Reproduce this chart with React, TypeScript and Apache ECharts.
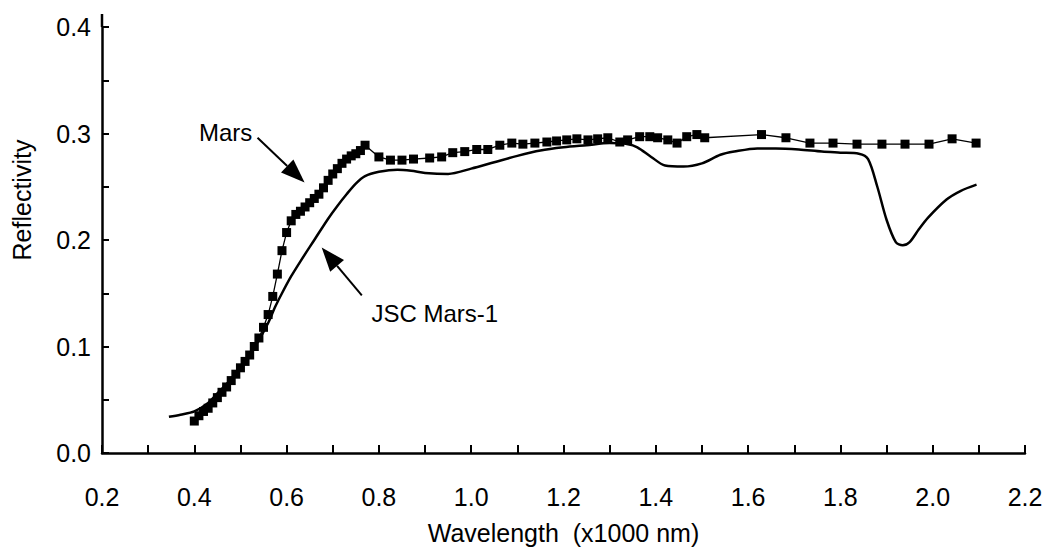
import React, { useEffect, useRef } from "react";
import * as echarts from "echarts";

const FONT = "'Liberation Sans', Arial, Helvetica, sans-serif";

// JSC Mars-1 spectrum (wavelength x1000 nm, reflectivity)
const jscW = [0.345, 0.37, 0.40, 0.43, 0.45, 0.475, 0.50, 0.52, 0.54, 0.56, 0.575, 0.59, 0.61, 0.63, 0.66, 0.69, 0.71, 0.73, 0.75, 0.77, 0.80, 0.84, 0.87, 0.90, 0.95, 1.00, 1.05, 1.10, 1.15, 1.20, 1.25, 1.30, 1.34, 1.36, 1.39, 1.42, 1.46, 1.50, 1.54, 1.57, 1.62, 1.66, 1.71, 1.76, 1.80, 1.84, 1.86, 1.88, 1.90, 1.92, 1.935, 1.95, 1.97, 1.99, 2.03, 2.06, 2.095];
const jscR = [0.034, 0.036, 0.039, 0.047, 0.056, 0.067, 0.081, 0.093, 0.106, 0.122, 0.137, 0.150, 0.166, 0.180, 0.200, 0.220, 0.232, 0.243, 0.253, 0.260, 0.264, 0.266, 0.265, 0.263, 0.262, 0.267, 0.273, 0.279, 0.284, 0.287, 0.289, 0.291, 0.290, 0.287, 0.278, 0.270, 0.269, 0.272, 0.280, 0.283, 0.286, 0.286, 0.285, 0.283, 0.282, 0.281, 0.276, 0.250, 0.219, 0.198, 0.195, 0.198, 0.210, 0.221, 0.238, 0.246, 0.252];

// Mars spectrum (square markers)
const marsW = [0.40, 0.41, 0.42, 0.43, 0.44, 0.45, 0.46, 0.47, 0.48, 0.49, 0.50, 0.51, 0.52, 0.53, 0.54, 0.55, 0.56, 0.57, 0.58, 0.59, 0.60, 0.61, 0.62, 0.63, 0.64, 0.65, 0.66, 0.67, 0.68, 0.69, 0.70, 0.71, 0.72, 0.73, 0.74, 0.75, 0.76, 0.77, 0.80, 0.825, 0.85, 0.875, 0.91, 0.936, 0.96, 0.986, 1.012, 1.036, 1.062, 1.088, 1.112, 1.138, 1.164, 1.185, 1.207, 1.229, 1.253, 1.274, 1.296, 1.322, 1.339, 1.365, 1.387, 1.404, 1.426, 1.446, 1.467, 1.489, 1.506, 1.629, 1.682, 1.734, 1.784, 1.836, 1.89, 1.94, 1.992, 2.042, 2.094];
const marsR = [0.030, 0.035, 0.039, 0.042, 0.047, 0.052, 0.057, 0.062, 0.068, 0.074, 0.080, 0.086, 0.092, 0.100, 0.108, 0.118, 0.130, 0.147, 0.168, 0.190, 0.207, 0.218, 0.224, 0.227, 0.231, 0.235, 0.239, 0.243, 0.249, 0.256, 0.262, 0.267, 0.272, 0.276, 0.279, 0.281, 0.284, 0.289, 0.278, 0.275, 0.275, 0.276, 0.277, 0.278, 0.282, 0.283, 0.285, 0.285, 0.289, 0.291, 0.290, 0.291, 0.292, 0.293, 0.294, 0.295, 0.294, 0.295, 0.296, 0.292, 0.294, 0.297, 0.297, 0.296, 0.294, 0.291, 0.297, 0.299, 0.296, 0.299, 0.296, 0.291, 0.291, 0.290, 0.290, 0.290, 0.290, 0.295, 0.291];

// Annotations: label text, label anchor, arrow tail, arrow tip (data coords)
const marsLabel = { text: "Mars", at: [0.468, 0.301], tail: [0.537, 0.296], tip: [0.639, 0.254] };
const jscLabel = { text: "JSC Mars-1", at: [0.784, 0.131], tail: [0.763, 0.148], tip: [0.676, 0.193] };

export default function App() {
  const ref = useRef<HTMLDivElement>(null);

  useEffect(() => {
    if (!ref.current) return;
    const chart = echarts.init(ref.current, undefined, { renderer: "svg" });
    const fmt = (v: number) => {
      const k = Math.round(v * 10);
      if (Math.abs(v * 10 - k) > 1e-6) return "";
      return (k / 10).toFixed(1);
    };
    const fmtX = (v: number) => {
      const k = Math.round(v * 10);
      return k % 2 === 0 ? (k / 10).toFixed(1) : "";
    };
    chart.setOption({
      animation: false,
      backgroundColor: "#ffffff",
      grid: { left: 102, right: 27, top: 27, bottom: 97, containLabel: false, outerBoundsMode: "none" },
      xAxis: {
        type: "value",
        min: 0.2,
        max: 2.2,
        interval: 0.1,
        name: "Wavelength  (x1000 nm)",
        nameLocation: "middle",
        nameGap: 67,
        nameTextStyle: { fontFamily: FONT, fontSize: 25, color: "#000" },
        axisLine: { show: true, onZero: false, lineStyle: { color: "#000", width: 2.5 } },
        axisTick: { show: true, inside: true, length: 8, lineStyle: { color: "#000", width: 2 } },
        axisLabel: { formatter: fmtX, fontFamily: FONT, fontSize: 25, color: "#000", margin: 31 },
        splitLine: { show: false },
      },
      yAxis: {
        type: "value",
        min: 0,
        max: 0.4,
        interval: 0.05,
        axisLine: { show: true, lineStyle: { color: "#000", width: 2.5 } },
        axisTick: { show: true, inside: true, length: 7, lineStyle: { color: "#000", width: 2 } },
        axisLabel: { formatter: fmt, fontFamily: FONT, fontSize: 25, color: "#000", margin: 11 },
        splitLine: { show: false },
      },
      series: [
        {
          name: "JSC Mars-1",
          type: "line",
          data: jscW.map((w, i) => [w, jscR[i]]),
          showSymbol: false,
          smooth: 0.3,
          lineStyle: { color: "#000", width: 2.5 },
          z: 2,
        },
        {
          name: "Mars",
          type: "line",
          data: marsW.map((w, i) => [w, marsR[i]]),
          symbol: "rect",
          symbolSize: 9,
          showAllSymbol: true,
          itemStyle: { color: "#000" },
          lineStyle: { color: "#000", width: 1.3 },
          z: 3,
        },
      ],
    });

    const px = (p: number[]) => chart.convertToPixel({ gridIndex: 0 }, p) as number[];
    const arrow = (tailD: number[], tipD: number[]) => {
      const a = px(tailD);
      const b = px(tipD);
      const dx = b[0] - a[0];
      const dy = b[1] - a[1];
      const len = Math.sqrt(dx * dx + dy * dy);
      const ux = dx / len;
      const uy = dy / len;
      const headL = 24;
      const headW = 9;
      const bx = b[0] - ux * headL;
      const by = b[1] - uy * headL;
      return [
        {
          type: "line",
          shape: { x1: a[0], y1: a[1], x2: bx, y2: by },
          style: { stroke: "#000", lineWidth: 2 },
        },
        {
          type: "polygon",
          shape: {
            points: [
              [b[0], b[1]],
              [bx - uy * headW, by + ux * headW],
              [bx + uy * headW, by - ux * headW],
            ],
          },
          style: { fill: "#000" },
        },
      ];
    };
    const mL = px(marsLabel.at);
    const jL = px(jscLabel.at);
    const top = px([0.2, 0.4]);
    chart.setOption({
      graphic: [
        {
          type: "line",
          shape: { x1: top[0], y1: top[1], x2: top[0], y2: top[1] - 13 },
          style: { stroke: "#000", lineWidth: 2.5 },
        },
        ...arrow(marsLabel.tail, marsLabel.tip),
        ...arrow(jscLabel.tail, jscLabel.tip),
        {
          type: "text",
          x: mL[0],
          y: mL[1],
          style: { text: marsLabel.text, font: `24px ${FONT}`, fill: "#000", align: "center", verticalAlign: "middle", textAlign: "center", textVerticalAlign: "middle" },
        },
        {
          type: "text",
          x: jL[0],
          y: jL[1],
          style: { text: jscLabel.text, font: `24px ${FONT}`, fill: "#000", align: "left", verticalAlign: "middle", textAlign: "left", textVerticalAlign: "middle" },
        },
        {
          type: "text",
          x: 22,
          y: 200,
          rotation: Math.PI / 2,
          style: { text: "Reflectivity", font: `25px ${FONT}`, fill: "#000", align: "center", verticalAlign: "middle", textAlign: "center", textVerticalAlign: "middle" },
        },
      ],
    });

    return () => chart.dispose();
  }, []);

  return (
    <div
      ref={ref}
      style={{ position: "absolute", left: 0, top: 0, width: 1052, height: 550, background: "#fff" }}
    />
  );
}
